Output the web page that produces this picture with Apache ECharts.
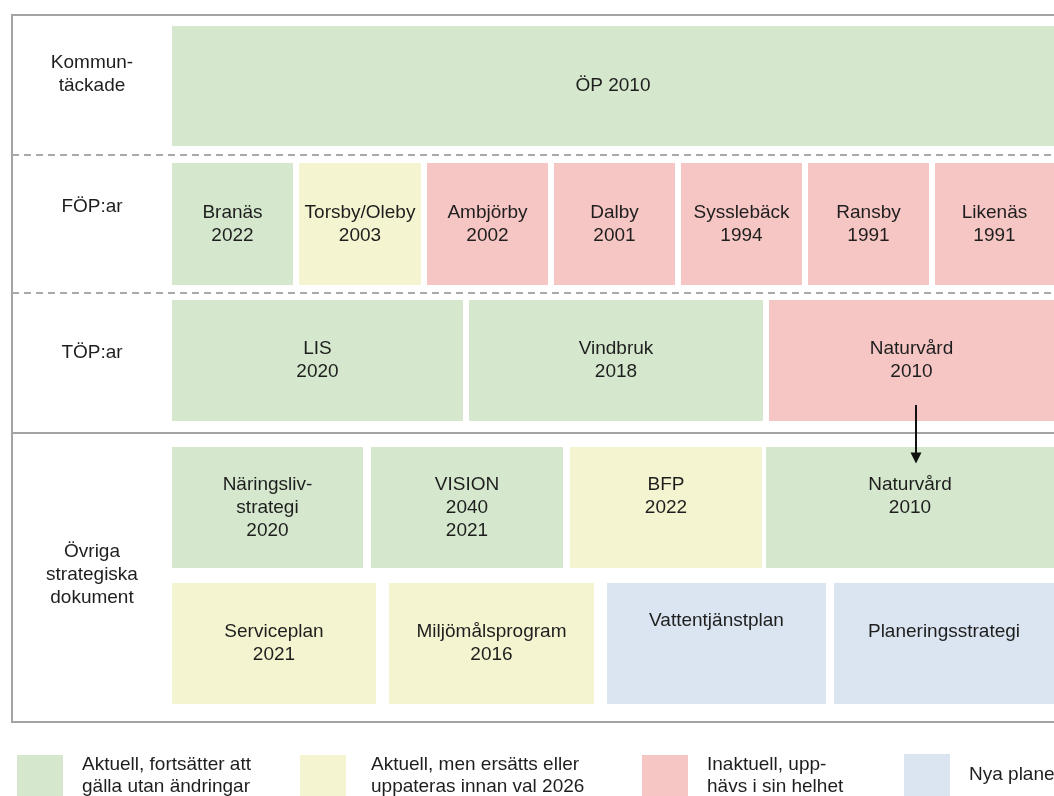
<!DOCTYPE html>
<html>
<head>
<meta charset="utf-8">
<script src="https://cdn.jsdelivr.net/npm/echarts@6/dist/echarts.min.js"></script>
<style>
  html, body { margin: 0; padding: 0; background: #fff; }
  #chart { width: 1054px; height: 796px; }
</style>
</head>
<body>
<div id="chart"></div>
<script>
// statusar (legend)
const statusNames = [
  "Aktuell, fortsätter att\ngälla utan ändringar",
  "Aktuell, men ersätts eller\nuppateras innan val 2026",
  "Inaktuell, upp-\nhävs i sin helhet",
  "Nya planer"
];
const statusColors = ["#d5e8cd", "#f5f4d1", "#f5c6c4", "#dae5f1"];

// radernas rubriker
const rowNames = ["Kommun-\ntäckade", "FÖP:ar", "TÖP:ar", "Övriga\nstrategiska\ndokument"];
const rowNameY = [74, 207, 353, 575];

// radband (övre/undre kant på y-axeln)
const rowTop = [26, 163, 300, 447, 583];
const rowBottom = [146, 285, 421, 568, 704];

// planer
const boxLabels = [
  "ÖP 2010",
  "Branäs\n2022", "Torsby/Oleby\n2003", "Ambjörby\n2002", "Dalby\n2001",
  "Sysslebäck\n1994", "Ransby\n1991", "Likenäs\n1991",
  "LIS\n2020", "Vindbruk\n2018", "Naturvård\n2010",
  "Näringsliv-\nstrategi\n2020", "VISION\n2040\n2021", "BFP\n2022\n", "Naturvård\n2010\n",
  "Serviceplan\n2021", "Miljömålsprogram\n2016", "Vattentjänstplan\n\n", "Planeringsstrategi\n"
];
const boxRow    = [0, 1, 1, 1, 1, 1, 1, 1, 2, 2, 2, 3, 3, 3, 3, 4, 4, 4, 4];
const boxStatus = [0, 0, 1, 2, 2, 2, 2, 2, 0, 0, 2, 0, 0, 1, 0, 1, 1, 3, 3];
const boxStart  = [172, 172, 299, 427, 554, 681, 808, 935, 172, 469, 769, 172, 371, 570, 766, 172, 389, 607, 834];
const boxEnd    = [1054, 293, 421, 548, 675, 802, 929, 1054, 463, 763, 1054, 363, 563, 762, 1054, 376, 594, 826, 1054];

// avdelare mellan raderna: y, streckad?
const dividerY = [155, 293, 433];
const dividerDashed = [true, true, false];

// pil från TÖP Naturvård till Övriga Naturvård
const arrowX = 916;
const arrowFrom = 405;
const arrowTo = 458;

const textColor = "#1e1e1e";
const fontFamily = "'Liberation Sans', Arial, sans-serif";

const chart = echarts.init(document.getElementById("chart"));

const boxSeries = statusNames.map((name, s) => {
  const idx = boxLabels.map((_, i) => i).filter(i => boxStatus[i] === s);
  return {
    name: name,
    type: "custom",
    coordinateSystem: "cartesian2d",
    itemStyle: { color: statusColors[s] },
    silent: true,
    data: idx.map(i => [boxStart[i], boxEnd[i], boxRow[i]]),
    renderItem: function (params, api) {
      const i = idx[params.dataIndex];
      const r = api.value(2);
      const p0 = api.coord([api.value(0), rowTop[r]]);
      const p1 = api.coord([api.value(1), rowBottom[r]]);
      return {
        type: "group",
        children: [
          {
            type: "rect",
            shape: { x: p0[0], y: p0[1], width: p1[0] - p0[0], height: p1[1] - p0[1] },
            style: { fill: api.visual("color") }
          },
          {
            type: "text",
            x: (p0[0] + p1[0]) / 2,
            y: (p0[1] + p1[1]) / 2,
            style: {
              text: boxLabels[i],
              fill: textColor,
              font: "19px " + fontFamily,
              lineHeight: 23,
              align: "center",
              verticalAlign: "middle"
            }
          }
        ]
      };
    }
  };
});

const frameSeries = {
  type: "custom",
  silent: true,
  coordinateSystem: "cartesian2d",
  data: [[0]],
  renderItem: function (params, api) {
    const tl = api.coord([12, 15]);
    const br = api.coord([1070, 722]);
    const children = [
      {
        type: "rect",
        shape: { x: tl[0], y: tl[1], width: br[0] - tl[0], height: br[1] - tl[1] },
        style: { fill: null, stroke: "#a3a3a3", lineWidth: 2 }
      }
    ];
    dividerY.forEach((y, k) => {
      const a = api.coord([12, y]);
      const b = api.coord([1070, y]);
      children.push({
        type: "line",
        shape: { x1: a[0], y1: a[1], x2: b[0], y2: b[1] },
        style: {
          stroke: dividerDashed[k] ? "#aaaaaa" : "#a3a3a3",
          lineWidth: 2,
          lineDash: dividerDashed[k] ? [7, 5] : null
        }
      });
    });
    rowNames.forEach((t, k) => {
      const p = api.coord([92, rowNameY[k]]);
      children.push({
        type: "text",
        x: p[0],
        y: p[1],
        style: {
          text: t,
          fill: textColor,
          font: "19px " + fontFamily,
          lineHeight: 23,
          align: "center",
          verticalAlign: "middle"
        }
      });
    });
    return { type: "group", children: children };
  }
};

const arrowSeries = {
  type: "lines",
  coordinateSystem: "cartesian2d",
  silent: true,
  z: 5,
  symbol: ["none", "triangle"],
  symbolSize: [15, 11],
  lineStyle: { color: "#111", width: 2, opacity: 1 },
  data: [{ coords: [[arrowX, arrowFrom], [arrowX, arrowTo]] }]
};

const legendLeft = [17, 300, 642, 904];

chart.setOption({
  animation: false,
  backgroundColor: "#fff",
  grid: { left: 0, right: 0, top: 0, bottom: 0 },
  xAxis: { type: "value", min: 0, max: 1054, show: false },
  yAxis: { type: "value", min: 0, max: 796, inverse: true, show: false },
  legend: statusNames.map((name, s) => ({
    data: [name],
    left: legendLeft[s],
    top: 754,
    width: 600,
    padding: 0,
    selectedMode: false,
    icon: "rect",
    itemWidth: 46,
    itemHeight: 42,
    textStyle: {
      fontSize: 19,
      fontFamily: fontFamily,
      color: textColor,
      lineHeight: 22,
      padding: [0, 0, 0, s === 1 ? 20 : 14]
    }
  })),
  series: [frameSeries].concat(boxSeries, [arrowSeries])
});
</script>
</body>
</html>
